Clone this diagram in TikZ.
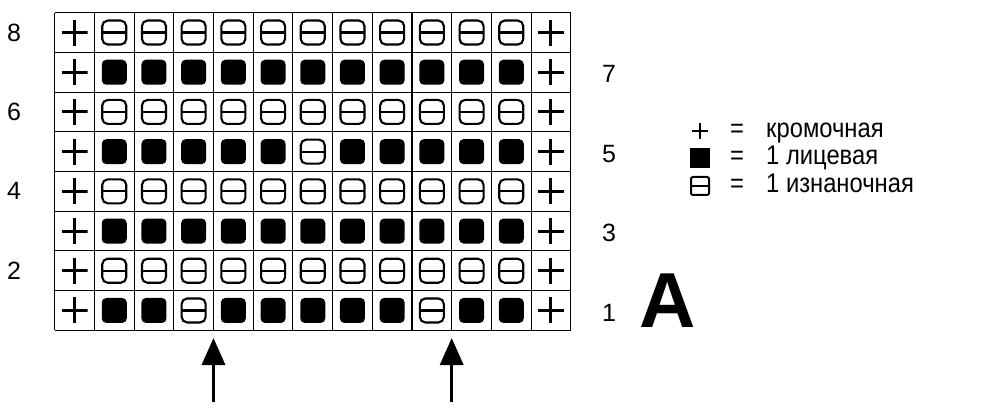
\documentclass[tikz,border=0pt]{standalone}
\usepackage{fontspec}
\setmainfont{Liberation Sans}
\newfontfamily\narrowfont[FakeStretch=0.88]{Liberation Sans}
\usetikzlibrary{arrows.meta}
\tikzset{
  gridline/.style={line width=1.1pt, black},
  stP/.style={minimum size=26pt, inner sep=0pt,
    path picture={\draw[line width=3pt] (path picture bounding box.north) -- (path picture bounding box.south)
      (path picture bounding box.west) -- (path picture bounding box.east);}},
  stK/.style={fill=black, rounded corners=4.5pt, minimum size=25pt, inner sep=0pt},
  stL/.style={draw, line width=2.1pt, rounded corners=5.5pt, minimum size=24pt, inner sep=0pt,
    path picture={\draw[line width=2.1pt] (path picture bounding box.west) -- (path picture bounding box.east);}},
  legP/.style={minimum size=16pt, inner sep=0pt,
    path picture={\draw[line width=2.6pt] (path picture bounding box.north) -- (path picture bounding box.south)
      (path picture bounding box.west) -- (path picture bounding box.east);}},
  legK/.style={fill=black, minimum size=20pt, inner sep=0pt},
  legL/.style={draw, line width=2pt, rounded corners=2pt, minimum size=18pt, inner sep=0pt,
    path picture={\draw[line width=2pt] (path picture bounding box.west) -- (path picture bounding box.east);}},
  num/.style={font=\fontsize{25}{25}\selectfont, inner sep=0pt},
  legtext/.style={font=\narrowfont\fontsize{27}{27}\selectfont, inner sep=0pt, anchor=base west},
  arr/.style={line width=3.5pt, -{Triangle[length=27pt,width=23pt]}},
}
\newcommand\chartrow[2]{\foreach \s [count=\c] in {#2} {\node[st\s] (r#1c\c) at ({54.7+(\c-0.5)*39.7}, {84.7+(#1-0.5)*39.7}) {};}}
\begin{document}
\begin{tikzpicture}[x=1pt, y=1pt]
\useasboundingbox (0,0) rectangle (1000,415);
% grid
\foreach \i in {0,...,13} \draw[gridline] ({54.7+\i*39.7},84.7) -- ({54.7+\i*39.7},402.3);
\foreach \j in {0,...,8} \draw[gridline] (54.7,{84.7+\j*39.7}) -- (570.8,{84.7+\j*39.7});
% cells
\chartrow{8}{P,L,L,L,L,L,L,L,L,L,L,L,P}
\chartrow{7}{P,K,K,K,K,K,K,K,K,K,K,K,P}
\chartrow{6}{P,L,L,L,L,L,L,L,L,L,L,L,P}
\chartrow{5}{P,K,K,K,K,K,L,K,K,K,K,K,P}
\chartrow{4}{P,L,L,L,L,L,L,L,L,L,L,L,P}
\chartrow{3}{P,K,K,K,K,K,K,K,K,K,K,K,P}
\chartrow{2}{P,L,L,L,L,L,L,L,L,L,L,L,P}
\chartrow{1}{P,K,K,L,K,K,K,K,K,L,K,K,P}
% row numbers
\node[num] (n8) at (14,{84.7+7.5*39.7}) {8};
\node[num] (n6) at (14,{84.7+5.5*39.7}) {6};
\node[num] (n4) at (14,{84.7+3.5*39.7}) {4};
\node[num] (n2) at (14,{84.7+1.5*39.7}) {2};
\node[num] (n7) at (609,{82.7+6.5*39.7}) {7};
\node[num] (n5) at (609,{82.7+4.5*39.7}) {5};
\node[num] (n3) at (609,{82.7+2.5*39.7}) {3};
\node[num] (n1) at (609,{82.7+0.5*39.7}) {1};
\node[font=\fontsize{78}{78}\selectfont\bfseries, inner sep=0pt] (A) at (667.5,114) {A};
% arrows
\coordinate (a1s) at (213.5,13);
\coordinate (a1e) at (213.5,77);
\coordinate (a2s) at (451.7,13);
\coordinate (a2e) at (451.7,77);
\draw[arr] (a1s) -- (a1e);
\draw[arr] (a2s) -- (a2e);
% legend
\node[legP] (lgP) at (700,284) {};
\node[legtext] (eq1) at (730,277) {=};
\node[legtext] (t1) at (766,277) {кромочная};
\node[legK] (lgK) at (700,257) {};
\node[legtext] (eq2) at (730,250) {=};
\node[legtext] (t2) at (766,250) {1 лицевая};
\node[legL] (lgL) at (700,229) {};
\node[legtext] (eq3) at (730,222) {=};
\node[legtext] (t3) at (766,222) {1 изнаночная};
\end{tikzpicture}
\end{document}
